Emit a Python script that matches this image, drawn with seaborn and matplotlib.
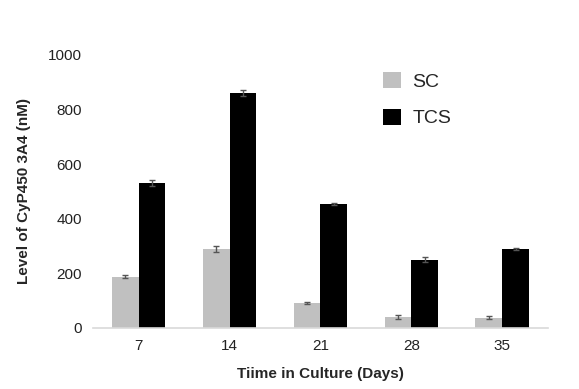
# bar chart of CyP450 3A4 level over culture time

import pandas as pd
import seaborn as sns
import matplotlib.pyplot as plt

days = ["7", "14", "21", "28", "35"]
sc_vals = [187, 289, 92, 40, 38]
sc_err = [5, 10, 3, 6, 6]
tcs_vals = [530, 860, 454, 250, 289]
tcs_err = [12, 12, 3, 10, 5]

df = pd.DataFrame({
    "Day": days * 2,
    "Level": sc_vals + tcs_vals,
    "Err": sc_err + tcs_err,
    "Group": ["SC"] * 5 + ["TCS"] * 5,
})

sns.set_style("white")
plt.rcParams["font.family"] = ["Liberation Sans", "DejaVu Sans"]

fig = plt.figure(figsize=(5.79, 3.89), dpi=100)
ax = fig.add_axes([0.161, 0.157, 0.785, 0.702])

sns.barplot(data=df, x="Day", y="Level", hue="Group", order=days,
            palette={"SC": "#c0c0c0", "TCS": "#000000"},
            width=0.59, gap=0, errorbar=None, saturation=1,
            linewidth=0, ax=ax)

# error bars at the bar centres
bars = [p for p in ax.patches if p.get_height() > 0]
xs = [p.get_x() + p.get_width() / 2 for p in bars]
hs = [p.get_height() for p in bars]
errs = sc_err + tcs_err
ax.errorbar(xs, hs, yerr=errs, fmt="none", ecolor="#555555",
            elinewidth=1, capsize=2.5, capthick=1)

ax.set_ylim(0, 1000)
ax.set_yticks(range(0, 1001, 200))
ax.set_xlim(-0.5, 4.5)
for s in ["top", "right", "left"]:
    ax.spines[s].set_visible(False)
ax.spines["bottom"].set_color("#d9d9d9")
ax.spines["bottom"].set_linewidth(1.2)
ax.tick_params(axis="both", length=0, labelsize=11, colors="#222222", pad=8)
ax.set_xlabel("Tiime in Culture (Days)", fontsize=11, fontweight="bold", labelpad=10)
ax.set_ylabel("Level of CyP450 3A4 (nM)", fontsize=11, fontweight="bold", labelpad=12)

leg = ax.legend(loc="upper left", bbox_to_anchor=(0.6, 1.0), frameon=False,
                fontsize=14, handlelength=0.9, handleheight=0.9,
                labelspacing=0.9, handletextpad=0.6)

plt.savefig("out.png", dpi=100)
